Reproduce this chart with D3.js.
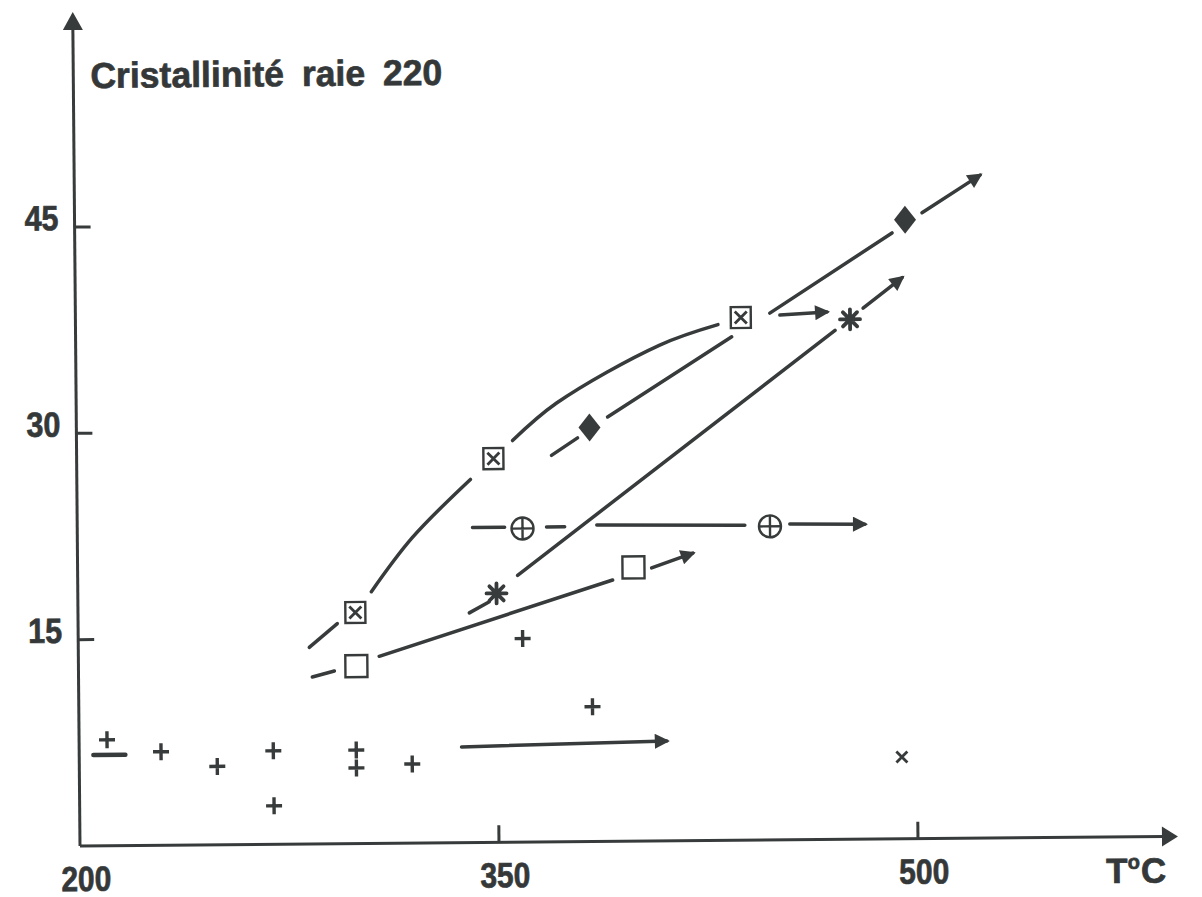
<!DOCTYPE html>
<html>
<head>
<meta charset="utf-8">
<script src="https://cdn.jsdelivr.net/npm/d3@7"></script>
<style>
  html, body { margin: 0; padding: 0; background: #fff; }
  text { font-family: "Liberation Sans", Arial, sans-serif; font-weight: bold; fill: #353838;
         stroke: #353838; stroke-width: 0.7px; }
</style>
</head>
<body>
<svg id="chart" width="1202" height="897"></svg>
<script>
// temperature (°C) ticks and crystallinity ticks
const xTicks = [200, 350, 500];
const yTicks = [15, 30, 45];

// marker positions [T, crystallinity]
const boxedPts = [[299.3, 16.8], [349.2, 27.9], [438.2, 38.0]];
const diamondPts = [[383.7, 30.1], [497.3, 45.0]];
const starPts = [[349.9, 18.1], [477.3, 37.8]];
const oplusPts = [[359.4, 22.8], [448.0, 22.8]];
const squarePts = [[299.5, 12.9], [399.0, 19.9]];
const plusPts = [[210.0, 7.7], [229.3, 6.8], [249.4, 5.7], [269.5, 6.8], [269.6, 2.8],
                 [299.2, 6.8], [299.2, 5.5], [319.2, 5.75], [359.1, 14.8], [383.9, 9.8]];
const dashPts = [[210.8, 6.6]];
const crossPts = [[494.5, 5.95]];

// hand drawn traces, broken around the markers
const boxedTrace = [
  { pts: [[282.7, 14.3], [292.8, 16.0]] },
  { pts: [[305.1, 18.3], [319.9, 22.2], [340.9, 26.4]] },
  { pts: [[356.1, 29.2], [372.0, 31.9], [409.1, 36.05], [430.0, 37.5]] },
  { pts: [[452.2, 38.15], [469.1, 38.35]], arrow: true }
];
const diamondTrace = [
  { pts: [[370.0, 28.1], [379.4, 29.35]] },
  { pts: [[390.2, 30.85], [434.9, 36.6]] },
  { pts: [[448.6, 38.3], [492.6, 44.05]] },
  { pts: [[503.4, 45.5], [524.3, 48.2]], arrow: true }
];
const starTrace = [
  { pts: [[340.1, 16.7], [347.3, 17.5]] },
  { pts: [[357.5, 19.4], [471.9, 37.0]] },
  { pts: [[482.0, 38.6], [496.1, 40.8]], arrow: true }
];
const oplusTrace = [
  { pts: [[341.5, 22.9], [353.0, 22.9]] },
  { pts: [[368.0, 22.9], [374.5, 22.9]] },
  { pts: [[386.0, 23.0], [439.0, 22.9]] },
  { pts: [[455.1, 22.95], [482.0, 22.9]], arrow: true }
];
const squareTrace = [
  { pts: [[283.7, 12.14], [291.6, 12.56]] },
  { pts: [[307.7, 13.6], [391.5, 19.0]] },
  { pts: [[405.5, 19.85], [420.3, 20.9]], arrow: true }
];
const plusTrace = [
  { pts: [[336.9, 6.96], [410.4, 7.26]], arrow: true }
];

const ink = "#383b3b";
const svg = d3.select("#chart");

const x = d3.scaleLinear().domain([200, 500]).range([80, 918]);
const y = d3.scaleLinear().domain([0, 45]).range([846, 227]);

// the scanned figure sits slightly askew
const g = svg.append("g").attr("transform", `rotate(-0.5, ${x(200)}, ${y(0)})`);

const defs = svg.append("defs");
defs.append("marker")
  .attr("id", "head")
  .attr("viewBox", "0 -5 10 10")
  .attr("refX", 8)
  .attr("markerUnits", "userSpaceOnUse")
  .attr("markerWidth", 19)
  .attr("markerHeight", 15)
  .attr("orient", "auto")
  .append("path").attr("d", "M0,-5L10,0L0,5Z").attr("fill", ink);

// axes
g.append("line")
  .attr("x1", x(200)).attr("y1", y(0))
  .attr("x2", x(200)).attr("y2", 28)
  .attr("stroke", ink).attr("stroke-width", 3);
g.append("path")
  .attr("d", `M${x(200) - 10},30L${x(200)},12L${x(200) + 10},30Z`)
  .attr("fill", ink);
g.append("line")
  .attr("x1", x(200)).attr("y1", y(0))
  .attr("x2", 1164).attr("y2", y(0))
  .attr("stroke", ink).attr("stroke-width", 3);
g.append("path")
  .attr("d", `M1162,${y(0) - 10}L1178,${y(0)}L1162,${y(0) + 10}Z`)
  .attr("fill", ink);

g.selectAll(".ytick").data(yTicks).join("line")
  .attr("x1", x(200)).attr("x2", x(200) + 16)
  .attr("y1", d => y(d)).attr("y2", d => y(d))
  .attr("stroke", ink).attr("stroke-width", 3);
g.selectAll(".ylab").data(yTicks).join("text")
  .attr("x", 64).attr("y", d => y(d) + 3)
  .attr("text-anchor", "end")
  .attr("font-size", 35)
  .attr("textLength", 34).attr("lengthAdjust", "spacingAndGlyphs")
  .text(d => d);

g.selectAll(".xtick").data(xTicks.slice(1)).join("line")
  .attr("x1", d => x(d)).attr("x2", d => x(d))
  .attr("y1", y(0)).attr("y2", y(0) - 17)
  .attr("stroke", ink).attr("stroke-width", 3);
g.selectAll(".xlab").data(xTicks).join("text")
  .attr("x", d => x(d) + 6).attr("y", y(0) + 45)
  .attr("text-anchor", "middle")
  .attr("font-size", 35)
  .attr("textLength", 50).attr("lengthAdjust", "spacingAndGlyphs")
  .text(d => d);

const unit = g.append("text").attr("x", 1106).attr("y", y(0) + 46).attr("font-size", 35);
unit.append("tspan").text("T");
unit.append("tspan").attr("font-size", 20).attr("dy", -14).attr("dx", 0).text("o");
unit.append("tspan").attr("dy", 14).attr("dx", 1).text("C");

g.append("text")
  .attr("x", 97).attr("y", 88)
  .attr("font-size", 36)
  .attr("textLength", 352).attr("lengthAdjust", "spacingAndGlyphs")
  .attr("word-spacing", 8)
  .text("Cristallinité  raie  220");

// traces
const curve = d3.line().x(d => x(d[0])).y(d => y(d[1])).curve(d3.curveCatmullRom);
const traces = [boxedTrace, diamondTrace, starTrace, oplusTrace, squareTrace, plusTrace].flat();
g.selectAll(".trace").data(traces).join("path")
  .attr("d", d => curve(d.pts))
  .attr("fill", "none")
  .attr("stroke", ink)
  .attr("stroke-width", 3.5)
  .attr("stroke-linecap", "round")
  .attr("marker-end", d => d.arrow ? "url(#head)" : null);

// markers
function place(sel) {
  return sel.attr("transform", d => `translate(${x(d[0])},${y(d[1])})`);
}

const boxed = place(g.selectAll(".boxed").data(boxedPts).join("g"));
boxed.append("rect").attr("x", -10).attr("y", -10.5).attr("width", 20).attr("height", 21)
  .attr("fill", "#fff").attr("stroke", ink).attr("stroke-width", 2.4);
boxed.append("path").attr("d", "M-6,-6L6,6M6,-6L-6,6")
  .attr("stroke", ink).attr("stroke-width", 2.8);

place(g.selectAll(".diamond").data(diamondPts).join("path"))
  .attr("d", "M0,-14L11,0L0,14L-11,0Z")
  .attr("fill", ink);

const spokes = d3.range(8).map(i => i * Math.PI / 4)
  .map(a => `M0,0L${(10 * Math.cos(a)).toFixed(2)},${(10 * Math.sin(a)).toFixed(2)}`).join("");
place(g.selectAll(".star").data(starPts).join("path"))
  .attr("d", spokes)
  .attr("stroke", ink).attr("stroke-width", 3.8).attr("stroke-linecap", "round");

const oplus = place(g.selectAll(".oplus").data(oplusPts).join("g"));
oplus.append("circle").attr("r", 11).attr("fill", "#fff").attr("stroke", ink).attr("stroke-width", 2.4);
oplus.append("path").attr("d", "M-11,0L11,0M0,-11L0,11").attr("stroke", ink).attr("stroke-width", 2.4);

place(g.selectAll(".square").data(squarePts).join("rect"))
  .attr("x", -11).attr("y", -11).attr("width", 22).attr("height", 22)
  .attr("fill", "#fff").attr("stroke", ink).attr("stroke-width", 2.4);

place(g.selectAll(".plus").data(plusPts).join("path"))
  .attr("d", "M-8,0L8,0M0,-8.5L0,8.5")
  .attr("stroke", ink).attr("stroke-width", 3.4);

place(g.selectAll(".dash").data(dashPts).join("path"))
  .attr("d", "M-16,0L16,0")
  .attr("stroke", ink).attr("stroke-width", 4.5).attr("stroke-linecap", "round");

place(g.selectAll(".cross").data(crossPts).join("path"))
  .attr("d", "M-5.5,-5.5L5.5,5.5M5.5,-5.5L-5.5,5.5")
  .attr("stroke", ink).attr("stroke-width", 2.8);
</script>
</body>
</html>
